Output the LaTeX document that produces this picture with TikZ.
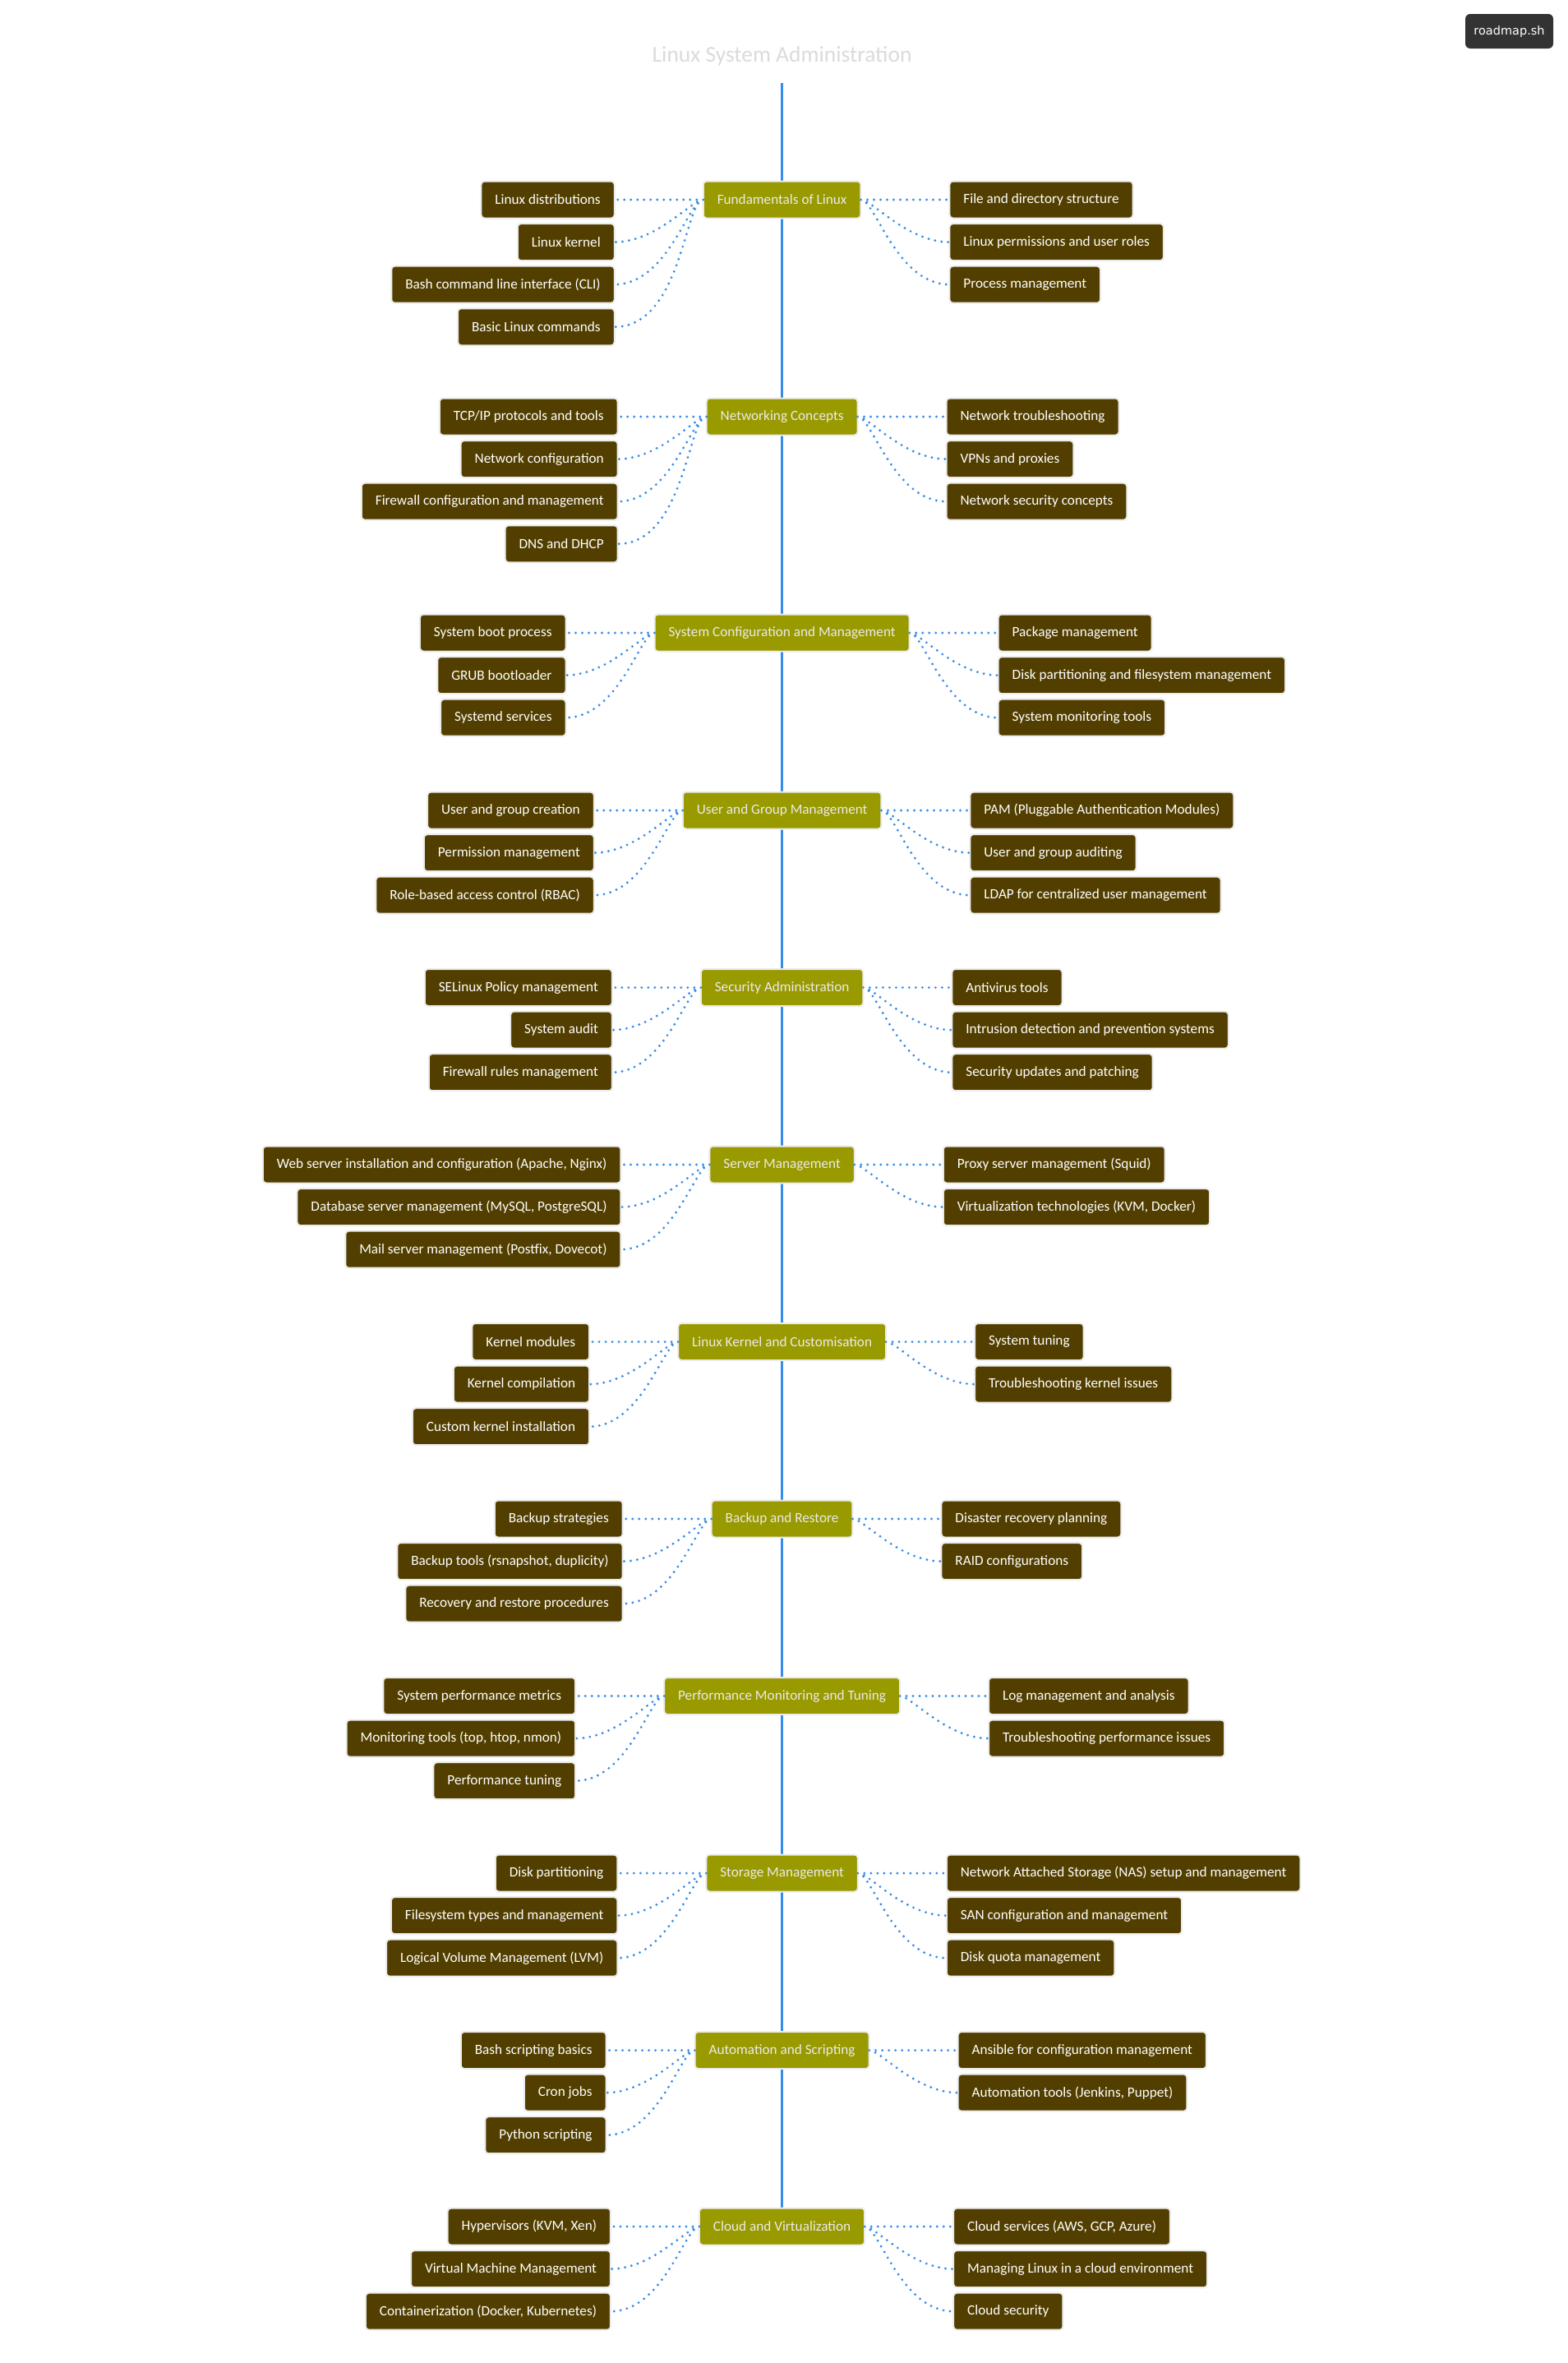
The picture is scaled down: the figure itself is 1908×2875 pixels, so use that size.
\documentclass[tikz,border=0pt]{standalone}
\usepackage{fontspec}
\setmainfont{Carlito}
\newfontfamily\badgefont{DejaVu Sans}
\usepackage{tikz}
\usetikzlibrary{positioning, backgrounds}

\definecolor{topicolive}{RGB}{153,153,0}
\definecolor{subbrown}{RGB}{82,63,0}
\definecolor{linkblue}{RGB}{55,140,232}
\definecolor{badgegray}{RGB}{51,51,51}

\begin{document}
\begin{tikzpicture}[
    x=1pt, y=1pt,
    topic/.style={rectangle, rounded corners=4pt, draw=gray!15, line width=2pt, fill=topicolive, text=white!92!black, minimum height=45pt, inner xsep=17pt, inner ysep=0pt, outer sep=0pt, font=\fontsize{17.2}{20}\selectfont},
    sub/.style={topic, fill=subbrown, text=white},
    link/.style={linkblue, line width=3.2pt, dash pattern=on 0pt off 8pt, line cap=round},
    lcurve/.style={out=180, in=0, out looseness=0.3, in looseness=1.1},
    rcurve/.style={out=0, in=180, out looseness=0.3, in looseness=1.1},
    spine/.style={linkblue, line width=3.5pt}
]
\useasboundingbox (0,0) rectangle (1908,-2875);

% Titel und Badge
\node (title) [font=\fontsize{27.5}{32}\selectfont, text=gray!28] at (951.6,-68) {Linux System Administration};
\node (badge) [rectangle, rounded corners=6pt, fill=badgegray, text=white, minimum width=107pt, minimum height=42pt, font=\badgefont\fontsize{14.5}{17}\selectfont] at (1836.5,-38) {roadmap.sh};
\coordinate (spinetop) at (951.6,-101);

% Fundamentals of Linux
\node (fund) [topic] at (951.6,-243) {Fundamentals of Linux};
\node (distros) [sub, left=108pt of fund] {Linux distributions};
\node (kernel) [sub, below=6.6pt of distros.south east, anchor=north east] {Linux kernel};
\node (bashcli) [sub, below=6.6pt of kernel.south east, anchor=north east] {Bash command line interface (CLI)};
\node (basiccmd) [sub, below=6.6pt of bashcli.south east, anchor=north east] {Basic Linux commands};
\node (filedir) [sub, right=108pt of fund] {File and directory structure};
\node (perms) [sub, below=6.6pt of filedir.south west, anchor=north west] {Linux permissions and user roles};
\node (procmgmt) [sub, below=6.6pt of perms.south west, anchor=north west] {Process management};

% Networking Concepts
\node (net) [topic, below=219pt of fund] {Networking Concepts};
\node (tcpip) [sub, left=108pt of net] {TCP/IP protocols and tools};
\node (netconf) [sub, below=6.6pt of tcpip.south east, anchor=north east] {Network configuration};
\node (fwconf) [sub, below=6.6pt of netconf.south east, anchor=north east] {Firewall configuration and management};
\node (dnsdhcp) [sub, below=6.6pt of fwconf.south east, anchor=north east] {DNS and DHCP};
\node (nettrbl) [sub, right=108pt of net] {Network troubleshooting};
\node (vpns) [sub, below=6.6pt of nettrbl.south west, anchor=north west] {VPNs and proxies};
\node (netsec) [sub, below=6.6pt of vpns.south west, anchor=north west] {Network security concepts};

% System Configuration and Management
\node (syscfg) [topic, below=218pt of net] {System Configuration and Management};
\node (boot) [sub, left=108pt of syscfg] {System boot process};
\node (grub) [sub, below=6.6pt of boot.south east, anchor=north east] {GRUB bootloader};
\node (systemd) [sub, below=6.6pt of grub.south east, anchor=north east] {Systemd services};
\node (pkgmgmt) [sub, right=108pt of syscfg] {Package management};
\node (diskfs) [sub, below=6.6pt of pkgmgmt.south west, anchor=north west] {Disk partitioning and filesystem management};
\node (sysmon) [sub, below=6.6pt of diskfs.south west, anchor=north west] {System monitoring tools};

% User and Group Management
\node (users) [topic, below=171pt of syscfg] {User and Group Management};
\node (usercreate) [sub, left=108pt of users] {User and group creation};
\node (permmgmt) [sub, below=6.6pt of usercreate.south east, anchor=north east] {Permission management};
\node (rbac) [sub, below=6.6pt of permmgmt.south east, anchor=north east] {Role-based access control (RBAC)};
\node (pam) [sub, right=108pt of users] {PAM (Pluggable Authentication Modules)};
\node (useraudit) [sub, below=6.6pt of pam.south west, anchor=north west] {User and group auditing};
\node (ldap) [sub, below=6.6pt of useraudit.south west, anchor=north west] {LDAP for centralized user management};

% Security Administration
\node (secadm) [topic, below=170.5pt of users] {Security Administration};
\node (selinux) [sub, left=108pt of secadm] {SELinux Policy management};
\node (sysaudit) [sub, below=6.6pt of selinux.south east, anchor=north east] {System audit};
\node (fwrules) [sub, below=6.6pt of sysaudit.south east, anchor=north east] {Firewall rules management};
\node (antivirus) [sub, right=108pt of secadm] {Antivirus tools};
\node (ids) [sub, below=6.6pt of antivirus.south west, anchor=north west] {Intrusion detection and prevention systems};
\node (patching) [sub, below=6.6pt of ids.south west, anchor=north west] {Security updates and patching};

% Server Management
\node (srvmgmt) [topic, below=170.5pt of secadm] {Server Management};
\node (websrv) [sub, left=108pt of srvmgmt] {Web server installation and configuration (Apache, Nginx)};
\node (dbsrv) [sub, below=6.6pt of websrv.south east, anchor=north east] {Database server management (MySQL, PostgreSQL)};
\node (mailsrv) [sub, below=6.6pt of dbsrv.south east, anchor=north east] {Mail server management (Postfix, Dovecot)};
\node (proxy) [sub, right=108pt of srvmgmt] {Proxy server management (Squid)};
\node (virt) [sub, below=6.6pt of proxy.south west, anchor=north west] {Virtualization technologies (KVM, Docker)};

% Linux Kernel and Customisation
\node (kerncust) [topic, below=170.5pt of srvmgmt] {Linux Kernel and Customisation};
\node (kmods) [sub, left=108pt of kerncust] {Kernel modules};
\node (kcompile) [sub, below=6.6pt of kmods.south east, anchor=north east] {Kernel compilation};
\node (kinstall) [sub, below=6.6pt of kcompile.south east, anchor=north east] {Custom kernel installation};
\node (tuning) [sub, right=108pt of kerncust] {System tuning};
\node (ktrbl) [sub, below=6.6pt of tuning.south west, anchor=north west] {Troubleshooting kernel issues};

% Backup and Restore
\node (backup) [topic, below=170.5pt of kerncust] {Backup and Restore};
\node (bkstrat) [sub, left=108pt of backup] {Backup strategies};
\node (bktools) [sub, below=6.6pt of bkstrat.south east, anchor=north east] {Backup tools (rsnapshot, duplicity)};
\node (recovery) [sub, below=6.6pt of bktools.south east, anchor=north east] {Recovery and restore procedures};
\node (disaster) [sub, right=108pt of backup] {Disaster recovery planning};
\node (raid) [sub, below=6.6pt of disaster.south west, anchor=north west] {RAID configurations};

% Performance Monitoring and Tuning
\node (perf) [topic, below=170.5pt of backup] {Performance Monitoring and Tuning};
\node (perfmetrics) [sub, left=108pt of perf] {System performance metrics};
\node (montools) [sub, below=6.6pt of perfmetrics.south east, anchor=north east] {Monitoring tools (top, htop, nmon)};
\node (perftune) [sub, below=6.6pt of montools.south east, anchor=north east] {Performance tuning};
\node (logmgmt) [sub, right=108pt of perf] {Log management and analysis};
\node (perftrbl) [sub, below=6.6pt of logmgmt.south west, anchor=north west] {Troubleshooting performance issues};

% Storage Management
\node (storage) [topic, below=170.5pt of perf] {Storage Management};
\node (diskpart) [sub, left=108pt of storage] {Disk partitioning};
\node (fstypes) [sub, below=6.6pt of diskpart.south east, anchor=north east] {Filesystem types and management};
\node (lvm) [sub, below=6.6pt of fstypes.south east, anchor=north east] {Logical Volume Management (LVM)};
\node (nas) [sub, right=108pt of storage] {Network Attached Storage (NAS) setup and management};
\node (san) [sub, below=6.6pt of nas.south west, anchor=north west] {SAN configuration and management};
\node (quota) [sub, below=6.6pt of san.south west, anchor=north west] {Disk quota management};

% Automation and Scripting
\node (auto) [topic, below=170.5pt of storage] {Automation and Scripting};
\node (bashscript) [sub, left=108pt of auto] {Bash scripting basics};
\node (cron) [sub, below=6.6pt of bashscript.south east, anchor=north east] {Cron jobs};
\node (python) [sub, below=6.6pt of cron.south east, anchor=north east] {Python scripting};
\node (ansible) [sub, right=108pt of auto] {Ansible for configuration management};
\node (autotools) [sub, below=6.6pt of ansible.south west, anchor=north west] {Automation tools (Jenkins, Puppet)};

% Cloud and Virtualization
\node (cloud) [topic, below=169.5pt of auto] {Cloud and Virtualization};
\node (hyperv) [sub, left=108pt of cloud] {Hypervisors (KVM, Xen)};
\node (vmmgmt) [sub, below=6.6pt of hyperv.south east, anchor=north east] {Virtual Machine Management};
\node (containers) [sub, below=6.6pt of vmmgmt.south east, anchor=north east] {Containerization (Docker, Kubernetes)};
\node (cloudsvc) [sub, right=108pt of cloud] {Cloud services (AWS, GCP, Azure)};
\node (cloudlinux) [sub, below=6.6pt of cloudsvc.south west, anchor=north west] {Managing Linux in a cloud environment};
\node (cloudsec) [sub, below=6.6pt of cloudlinux.south west, anchor=north west] {Cloud security};

% Verbindungen
\draw [link] (fund.west) -- (distros.east) (fund.west) to[lcurve] (kernel.east) (fund.west) to[lcurve] (bashcli.east) (fund.west) to[lcurve] (basiccmd.east);
\draw [link] (fund.east) -- (filedir.west) (fund.east) to[rcurve] (perms.west) (fund.east) to[rcurve] (procmgmt.west);
\draw [link] (net.west) -- (tcpip.east) (net.west) to[lcurve] (netconf.east) (net.west) to[lcurve] (fwconf.east) (net.west) to[lcurve] (dnsdhcp.east);
\draw [link] (net.east) -- (nettrbl.west) (net.east) to[rcurve] (vpns.west) (net.east) to[rcurve] (netsec.west);
\draw [link] (syscfg.west) -- (boot.east) (syscfg.west) to[lcurve] (grub.east) (syscfg.west) to[lcurve] (systemd.east);
\draw [link] (syscfg.east) -- (pkgmgmt.west) (syscfg.east) to[rcurve] (diskfs.west) (syscfg.east) to[rcurve] (sysmon.west);
\draw [link] (users.west) -- (usercreate.east) (users.west) to[lcurve] (permmgmt.east) (users.west) to[lcurve] (rbac.east);
\draw [link] (users.east) -- (pam.west) (users.east) to[rcurve] (useraudit.west) (users.east) to[rcurve] (ldap.west);
\draw [link] (secadm.west) -- (selinux.east) (secadm.west) to[lcurve] (sysaudit.east) (secadm.west) to[lcurve] (fwrules.east);
\draw [link] (secadm.east) -- (antivirus.west) (secadm.east) to[rcurve] (ids.west) (secadm.east) to[rcurve] (patching.west);
\draw [link] (srvmgmt.west) -- (websrv.east) (srvmgmt.west) to[lcurve] (dbsrv.east) (srvmgmt.west) to[lcurve] (mailsrv.east);
\draw [link] (srvmgmt.east) -- (proxy.west) (srvmgmt.east) to[rcurve] (virt.west);
\draw [link] (kerncust.west) -- (kmods.east) (kerncust.west) to[lcurve] (kcompile.east) (kerncust.west) to[lcurve] (kinstall.east);
\draw [link] (kerncust.east) -- (tuning.west) (kerncust.east) to[rcurve] (ktrbl.west);
\draw [link] (backup.west) -- (bkstrat.east) (backup.west) to[lcurve] (bktools.east) (backup.west) to[lcurve] (recovery.east);
\draw [link] (backup.east) -- (disaster.west) (backup.east) to[rcurve] (raid.west);
\draw [link] (perf.west) -- (perfmetrics.east) (perf.west) to[lcurve] (montools.east) (perf.west) to[lcurve] (perftune.east);
\draw [link] (perf.east) -- (logmgmt.west) (perf.east) to[rcurve] (perftrbl.west);
\draw [link] (storage.west) -- (diskpart.east) (storage.west) to[lcurve] (fstypes.east) (storage.west) to[lcurve] (lvm.east);
\draw [link] (storage.east) -- (nas.west) (storage.east) to[rcurve] (san.west) (storage.east) to[rcurve] (quota.west);
\draw [link] (auto.west) -- (bashscript.east) (auto.west) to[lcurve] (cron.east) (auto.west) to[lcurve] (python.east);
\draw [link] (auto.east) -- (ansible.west) (auto.east) to[rcurve] (autotools.west);
\draw [link] (cloud.west) -- (hyperv.east) (cloud.west) to[lcurve] (vmmgmt.east) (cloud.west) to[lcurve] (containers.east);
\draw [link] (cloud.east) -- (cloudsvc.west) (cloud.east) to[rcurve] (cloudlinux.west) (cloud.east) to[rcurve] (cloudsec.west);

% Hintergrund und Mittellinie
\begin{scope}[on background layer]
\fill [white] (0,0) rectangle (1908,-2875);
\draw [spine] (spinetop) -- (cloud.north);
\end{scope}

\end{tikzpicture}
\end{document}
